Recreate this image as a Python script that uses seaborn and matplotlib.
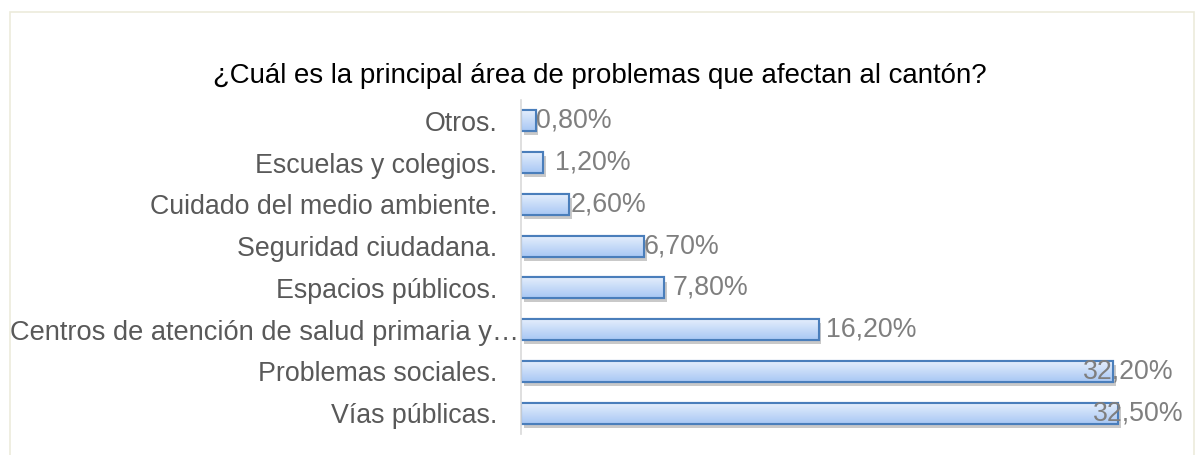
import numpy as np
import pandas as pd
import matplotlib
matplotlib.use("Agg")
import matplotlib.pyplot as plt
import matplotlib.patheffects as pe
import matplotlib.transforms as mtrans
from matplotlib.patches import Rectangle
import seaborn as sns

categories = [
    "Otros.",
    "Escuelas y colegios.",
    "Cuidado del medio ambiente.",
    "Seguridad ciudadana.",
    "Espacios públicos.",
    "Centros de atención de salud primaria y…",
    "Problemas sociales.",
    "Vías públicas.",
]
values = [0.8, 1.2, 2.6, 6.7, 7.8, 16.2, 32.2, 32.5]
value_labels = ["0,80%", "1,20%", "2,60%", "6,70%", "7,80%", "16,20%", "32,20%", "32,50%"]
label_offsets_px = [0, 12, 2, 0, 8, 7, -30, -25]
title = "¿Cuál es la principal área de problemas que afectan al cantón?"

sns.set_theme(style="white")
plt.rcParams["font.family"] = ["Liberation Sans", "DejaVu Sans"]

FS = 19.3
W, H = 1198, 455
fig = plt.figure(figsize=(W / 100, H / 100), dpi=100)
ax = fig.add_axes([521 / W, 1 - 434 / H, (1155 - 521) / W, 334 / H])

df = pd.DataFrame({"cat": categories, "val": values})
sns.barplot(data=df, y="cat", x="val", orient="h", ax=ax, width=0.5,
            color="#c6dbf7", edgecolor="#4a7ebb", linewidth=1.5, saturation=1)

# gradient + shadow
grad = np.linspace(0, 1, 64).reshape(-1, 1)
cmap = matplotlib.colors.LinearSegmentedColormap.from_list("g", ["#e4eefc", "#a8c7f4"])
for p in list(ax.patches):
    x0, y0 = p.get_x(), p.get_y()
    w, h = p.get_width(), p.get_height()
    p.set_path_effects([pe.SimplePatchShadow(offset=(2, -3), shadow_rgbFace="#666666", alpha=0.35), pe.Normal()])
    im = ax.imshow(grad, cmap=cmap, aspect="auto", extent=(x0, x0 + w, y0 + h, y0),
                   zorder=p.get_zorder() + 0.1, interpolation="bilinear")
    im.set_clip_path(p)
    edge = Rectangle((x0, y0), w, h, fill=False, edgecolor="#4a7ebb", linewidth=1.5,
                     zorder=p.get_zorder() + 0.2)
    ax.add_patch(edge)
ax.set_xlim(0, 34.5)
ax.set_ylim(7.5, -0.5)

for i, (v, lab, off) in enumerate(zip(values, value_labels, label_offsets_px)):
    tr = ax.transData + mtrans.ScaledTranslation(off / 100, 0, fig.dpi_scale_trans)
    ax.text(v, i, lab, transform=tr, ha="left", va="center", fontsize=FS, color="#7f7f7f", zorder=10)

ax.set_xlabel("")
ax.set_ylabel("")
ax.set_xticks([])
ax.tick_params(axis="y", length=0, pad=17, labelsize=FS, labelcolor="#595959")
for lbl in ax.get_yticklabels():
    if lbl.get_text().endswith("…"):
        lbl.set_transform(lbl.get_transform() + mtrans.ScaledTranslation(0.215, 0, fig.dpi_scale_trans))
        lbl.set_fontsize(19.6)
for s in ["top", "right", "bottom"]:
    ax.spines[s].set_visible(False)
ax.spines["left"].set_color("#d9d9d9")
ax.spines["left"].set_linewidth(1.2)

fig.text(600 / W, 1 - 76 / H, title, ha="center", va="center", fontsize=19.9, color="#000000")

frame = Rectangle((10 / W, -0.05), (1194 - 10) / W, 1 - 12 / H + 0.05, transform=fig.transFigure,
                  fill=False, edgecolor="#ecebdc", linewidth=1.2)
fig.patches.append(frame)

fig.savefig("out.png", dpi=100, facecolor="white")
